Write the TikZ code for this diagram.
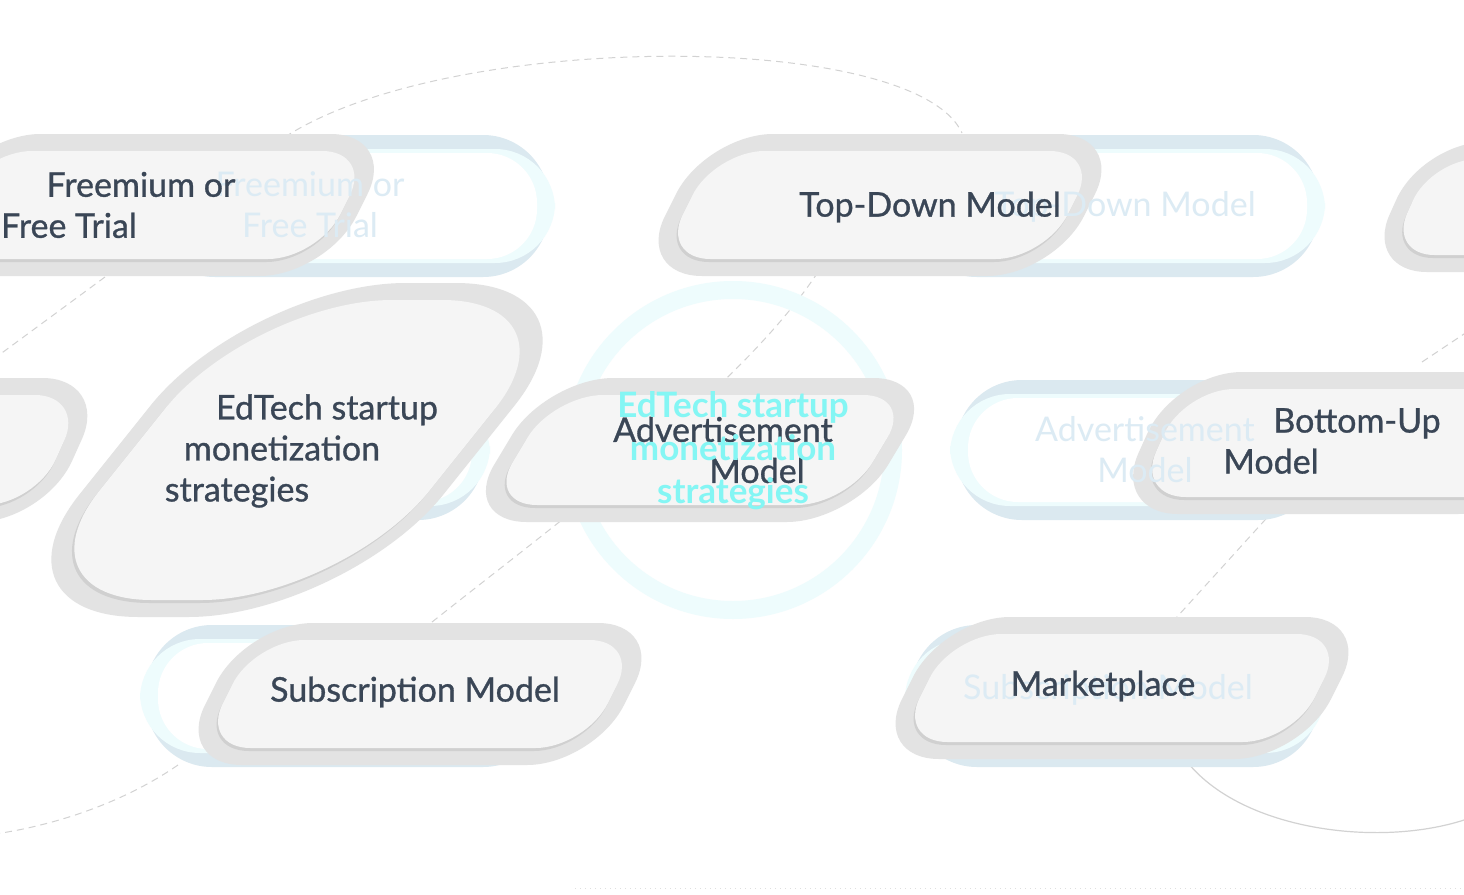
\documentclass[tikz,border=0pt]{standalone}
\usepackage{fontspec}
\setmainfont{Lato}
\newfontfamily\medfont[FakeBold=0.9]{Lato}
\definecolor{sgray}{HTML}{E3E3E3}
\definecolor{sdrop}{HTML}{D0D0D0}
\definecolor{sfill}{HTML}{F5F5F5}
\definecolor{txt}{HTML}{3A4656}
\definecolor{gblue}{HTML}{DBE9F0}
\definecolor{gcyan}{HTML}{EEFCFD}
\definecolor{cyantext}{HTML}{84F6F4}
\definecolor{gtext}{HTML}{DCEBF4}
\definecolor{conn}{HTML}{D2D2D2}
\newcommand\spill[6]{%
  \begin{scope}[shift={(#1,#2)},xslant=#5]
    \fill[sgray,rounded corners=#6+17] ({-#3/2-17},{-#4/2-17}) rectangle ({#3/2+17},{#4/2+17});
    \fill[sdrop,rounded corners=#6] ({-#3/2},{-#4/2+3}) rectangle ({#3/2},{#4/2+3});
    \fill[sfill,rounded corners=#6] ({-#3/2},{-#4/2}) rectangle ({#3/2},{#4/2});
  \end{scope}}
\newcommand\gpill[4]{%
  \fill[gblue,rounded corners=66] (#1+6,#2) rectangle (#3-6,#4);
  \fill[gcyan,rounded corners=60] (#1,#2+14) rectangle (#3,#4-14);
  \fill[white,rounded corners=50] (#1+18,#2+18) rectangle (#3-18,#4-18);}
\tikzset{
  lbl/.style={text=txt,font=\medfont\fontsize{34}{41}\selectfont,align=center,inner sep=0pt},
  glbl/.style={text=gtext,font=\fontsize{34}{41}\selectfont,align=center,inner sep=0pt},
  clbl/.style={text=cyantext,font=\bfseries\fontsize{35}{43}\selectfont,align=center,inner sep=0pt},
  link/.style={draw=conn,line width=1pt,dash pattern=on 7pt off 5pt},
  plainlink/.style={draw=conn,line width=1.2pt},
  dotlink/.style={draw=conn!70,line width=1pt,dash pattern=on 1pt off 4pt}
}
\begin{document}
\begin{tikzpicture}[x=1pt,y=-1pt]
\useasboundingbox (0,0) rectangle (1464,894);
\clip (0,0) rectangle (1464,894);
\fill[white] (0,0) rectangle (1464,894);
% free ends of connectors
\coordinate (a1) at (285,137);
\coordinate (a2) at (962,133);
\coordinate (b1) at (105,277);
\coordinate (b2) at (-5,358);
\coordinate (d1) at (818,272);
\coordinate (d2) at (422,630);
\coordinate (e1) at (178,765);
\coordinate (e2) at (-5,834);
\coordinate (f1) at (1422,362);
\coordinate (f2) at (1470,330);
\coordinate (g1) at (1274,510);
\coordinate (g2) at (1176,618);
\coordinate (h1) at (1180,752);
\coordinate (h2) at (1470,818);
\coordinate (k1) at (575,888);
\coordinate (k2) at (1464,888);
% connectors
\draw[link] (a1) .. controls (450,30) and (915,30) .. (a2);
\draw[link] (b1) -- (b2);
\draw[link] (d1) .. controls (740,390) and (560,520) .. (d2);
\draw[link] (e1) .. controls (120,805) and (50,826) .. (e2);
\draw[link] (f1) -- (f2);
\draw[link] (g1) -- (g2);
\draw[plainlink] (h1) .. controls (1230,830) and (1380,850) .. (h2);
\draw[dotlink] (k1) -- (k2);
% ghost layer
\draw[gcyan,line width=18pt] (733,450) circle (160);
\gpill{143}{135}{555}{277}
\gpill{905}{135}{1325}{277}
\gpill{140}{380}{490}{520}
\gpill{950}{380}{1330}{520}
\gpill{140}{625}{555}{767}
\gpill{905}{625}{1325}{767}
% solid layer
\spill{150}{205}{390}{108}{0.5}{50}
\spill{880}{205}{385}{108}{0.5}{50}
\spill{1600}{207}{380}{96}{0.45}{46}
\spill{-130}{450}{380}{110}{0.45}{50}
\spill{700}{450}{360}{110}{0.6}{50}
\spill{1350}{443}{380}{108}{0.45}{50}
\spill{420}{694}{385}{108}{0.5}{50}
\spill{1122}{688}{395}{108}{0.5}{50}
\spill{297}{450}{330}{300}{0.8}{140}
% ghost texts
\node[glbl] (gfree) at (310,205) {Freemium or\\Free Trial};
\node[glbl] (gtop) at (1125,207) {Top-Down Model};
\node[glbl] (gadv) at (1145,450) {Advertisement\\Model};
\node[glbl] (gsub) at (1108,690) {Subscription Model};
% solid texts
\node[lbl] (free) at (105,205) {\rule{72pt}{0pt}Freemium or\\Free Trial\rule{72pt}{0pt}};
\node[lbl] (top) at (930,207) {Top-Down Model};
\node[lbl] (ed) at (282,451) {\rule{90pt}{0pt}EdTech startup\\monetization\\strategies\rule{90pt}{0pt}};
\node[lbl] (adv) at (740,450) {Advertisement\rule{34pt}{0pt}\\\rule{34pt}{0pt}Model};
\node[lbl] (bot) at (1314,441) {\rule{86pt}{0pt}Bottom-Up\\Model\rule{86pt}{0pt}};
\node[lbl] (sub) at (415,692) {Subscription Model};
\node[lbl] (mkt) at (1103,686) {Marketplace};
% central ghost text
\node[clbl] (center) at (733,451) {EdTech startup\\monetization\\strategies};
\end{tikzpicture}
\end{document}
